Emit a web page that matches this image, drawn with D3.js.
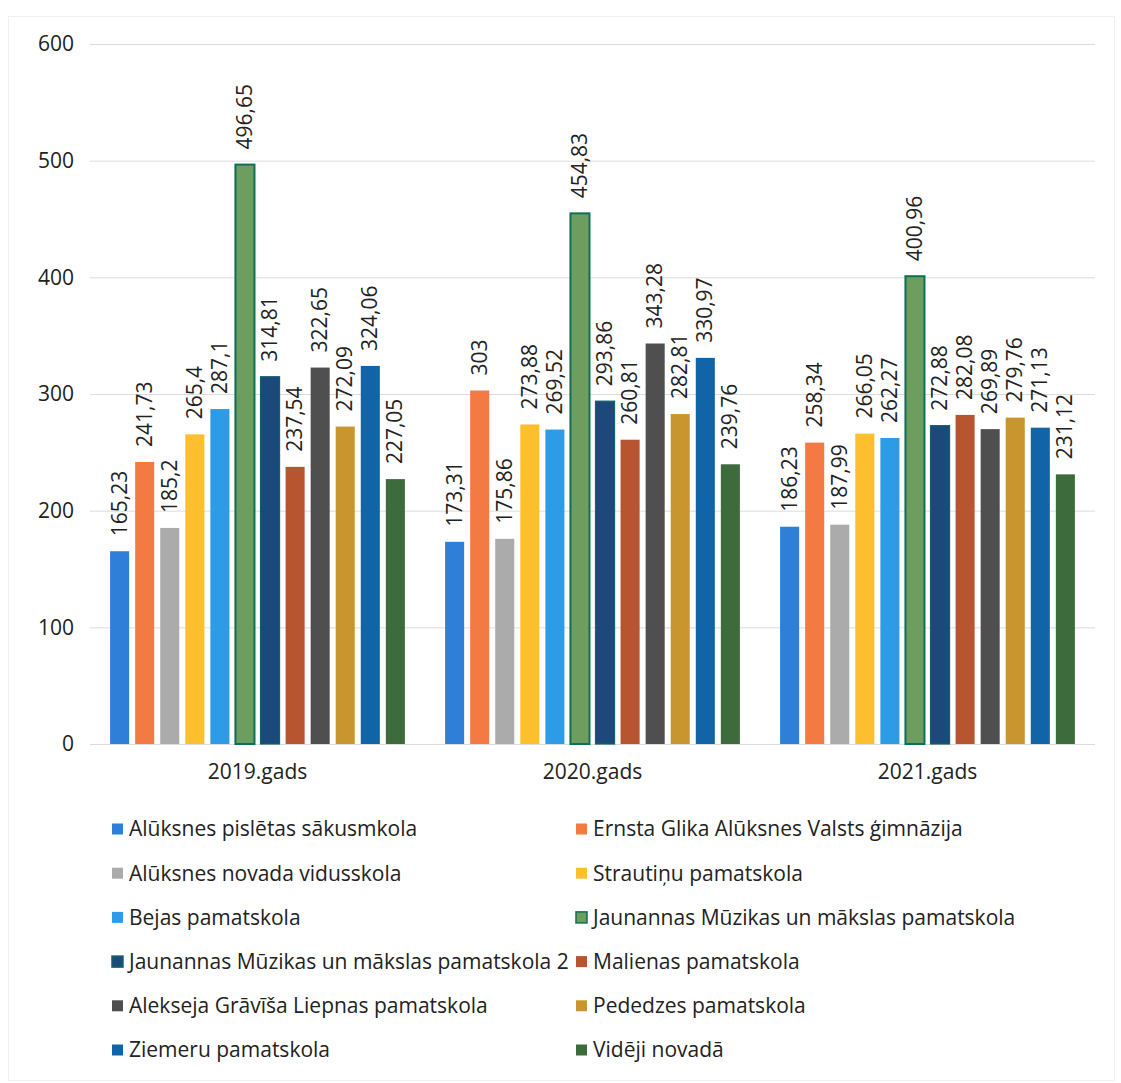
<!DOCTYPE html>
<html><head><meta charset="utf-8">
<script src="https://cdn.jsdelivr.net/npm/d3@7"></script>
<style>body{margin:0;background:#fff}svg{display:block}text{font-family:"Open Sans",sans-serif;fill:#222}</style>
</head><body>
<svg id="c" width="1121" height="1083"></svg>
<script>
const years = ["2019.gads", "2020.gads", "2021.gads"];
const schools = [
  "Alūksnes pislētas sākusmkola",
  "Ernsta Glika Alūksnes Valsts ģimnāzija",
  "Alūksnes novada vidusskola",
  "Strautiņu pamatskola",
  "Bejas pamatskola",
  "Jaunannas Mūzikas un mākslas pamatskola",
  "Jaunannas Mūzikas un mākslas pamatskola 2",
  "Malienas pamatskola",
  "Alekseja Grāvīša Liepnas pamatskola",
  "Pededzes pamatskola",
  "Ziemeru pamatskola",
  "Vidēji novadā"
];
const values2019 = [165.23, 241.73, 185.2, 265.4, 287.1, 496.65, 314.81, 237.54, 322.65, 272.09, 324.06, 227.05];
const values2020 = [173.31, 303, 175.86, 273.88, 269.52, 454.83, 293.86, 260.81, 343.28, 282.81, 330.97, 239.76];
const values2021 = [186.23, 258.34, 187.99, 266.05, 262.27, 400.96, 272.88, 282.08, 269.89, 279.76, 271.13, 231.12];
const yTicks = [0, 100, 200, 300, 400, 500, 600];
const colors = ["#2F7ED8","#F47A43","#ABABAB","#FDBF2D","#2E9BE6","#6E9E5F","#1B4A7A","#B65530","#4F4F4F","#C8952F","#1264A8","#3E6B3C"];
const strokes = [null,null,null,null,null,"#0F6E58","#15606A",null,null,null,null,null];

const series = [values2019, values2020, values2021];
const svg = d3.select("#c");

// faint outer frame
svg.append("rect").attr("x",8.5).attr("y",16.5).attr("width",1106).attr("height",1064)
  .attr("fill","none").attr("stroke","#f0f0f0").attr("stroke-width",1);

const x0 = d3.scaleBand().domain(years).range([90,1095]).paddingInner(0.12).paddingOuter(0.06);
const x1 = d3.scaleBand().domain(d3.range(schools.length)).range([0, x0.bandwidth()]).paddingInner(0.24).paddingOuter(0);
const y = d3.scaleLinear().domain([0,600]).range([744,44]);

// gridlines
svg.append("g").selectAll("line").data(yTicks).join("line")
  .attr("x1",90).attr("x2",1095).attr("y1",d=>y(d)+0.5).attr("y2",d=>y(d)+0.5)
  .attr("stroke","#dcdcdc").attr("stroke-width",1);

// y axis labels
const yAxis = d3.axisLeft(y).tickValues(yTicks).tickSize(0).tickPadding(0);
const ga = svg.append("g").attr("transform","translate(74,0)").call(yAxis);
ga.select(".domain").remove();
ga.selectAll("text").style("font-family","'Open Sans',sans-serif").style("font-size","21px").attr("fill","#222");

// x axis labels
const xAxis = d3.axisBottom(x0).tickSize(0).tickPadding(0);
const gx = svg.append("g").attr("transform","translate(0,764)").call(xAxis);
gx.select(".domain").remove();
gx.selectAll("text").style("font-family","'Open Sans',sans-serif").style("font-size","21px").attr("fill","#222");

const fmt = v => String(v).replace(".", ",");

years.forEach((yr, gi) => {
  const g = svg.append("g").attr("transform",`translate(${x0(yr)},0)`);
  const data = series[gi].map((v,i)=>({v,i}));
  g.selectAll("rect").data(data).join("rect")
    .attr("x",d=>x1(d.i)).attr("width",x1.bandwidth())
    .attr("y",d=>y(d.v)).attr("height",d=>y(0)-y(d.v))
    .attr("fill",d=>colors[d.i])
    .attr("stroke",d=>strokes[d.i]||"none")
    .attr("stroke-width",d=>d.i===5?2:1.2);
  g.selectAll("text.lbl").data(data).join("text").attr("class","lbl")
    .attr("transform",d=>`translate(${x1(d.i)+x1.bandwidth()/2+7},${y(d.v)-15}) rotate(-90)`)
    .attr("text-anchor","start")
    .style("font-size","21px")
    .text(d=>fmt(d.v));
});

// legend
const lg = svg.append("g");
schools.forEach((s,i)=>{
  const col = i%2, row = Math.floor(i/2);
  const lx = col===0 ? 112 : 576;
  const ly = 829 + row*44.2;
  lg.append("rect").attr("x",lx).attr("y",ly-5.5).attr("width",11).attr("height",11)
    .attr("fill",colors[i]).attr("stroke",strokes[i]||"none").attr("stroke-width",1.5);
  lg.append("text").attr("x",lx+17).attr("y",ly).attr("dy","0.35em")
    .style("font-size","21px").text(s);
});
</script>
</body></html>
